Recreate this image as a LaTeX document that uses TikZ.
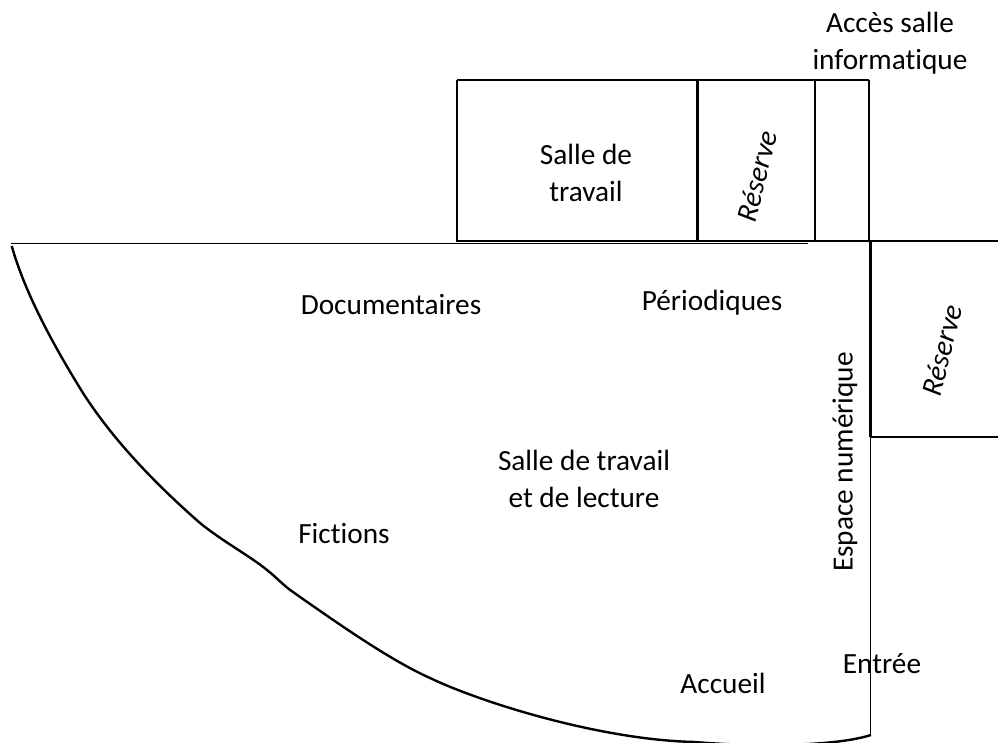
\documentclass[tikz,border=0pt]{standalone}
\usepackage{fontspec}
\setmainfont[Ligatures=NoCommon]{Carlito}
\tikzset{every picture/.style={line width=0.75pt}}
\tikzset{
  wall/.style={line width=2.4pt},
  thinwall/.style={line width=1.6pt},
  label/.style={font=\fontsize{29.3}{36.5}\selectfont,align=center,inner sep=0pt},
  slanted/.style={label,rotate=76,font=\fontsize{29.3}{36.5}\selectfont\itshape}
}
\begin{document}
\begin{tikzpicture}[x=1pt,y=1pt,yscale=-1,xscale=1]
\useasboundingbox (0,0) rectangle (998,743);

%Shape: Rectangle
\draw [wall]  (457,80) -- (869,80) ;
\draw [wall]  (457,80) -- (457,241) -- (869,241) ;
\draw [wall]  (697.5,80) -- (697.5,241) ;
\draw [wall]  (815,80) -- (815,241) ;
\draw [thinwall]  (869,80) -- (869,241) ;

%Straight Lines
\draw [thinwall]  (11,243.5) -- (808,243.5) ;
\draw [line width=2pt]  (869,241.5) -- (998,241.5) ;
\draw [wall]  (870.5,241) -- (870.5,437) ;
\draw [wall]  (870.5,437) -- (998,437) ;
\draw [thinwall]  (870.5,437) -- (870.5,735) ;

%Curve Lines
\draw [wall]  (11.7,246) .. controls (22,282) and (42,327) .. (83,393)
  .. controls (115,443) and (160,488) .. (200,523)
  .. controls (222,541) and (250,556) .. (267,570)
  .. controls (276,577) and (284,586) .. (293,592)
  .. controls (340,625) and (390,660) .. (430,678)
  .. controls (480,702) and (600,740) .. (695,742)
  .. controls (740,746) and (830,748) .. (871,735) ;

% Text Node
\node [label] (documentaires) at (391,305) {Documentaires};
\node [label] (periodiques) at (712,303) {Périodiques};
\node [label] (sallelecture) at (584,479) {Salle de travail\\et de lecture};
\node [label] (fictions) at (344,534) {Fictions};
\node [label] (accueil) at (723,683) {Accueil};
\node [label] (entree) at (882,664) {Entrée};
\node [label] (sallegroupe) at (586,173) {Salle de\\travail};
\node [label] (acces) at (890,43) {Accès salle\\informatique};
\node [label,rotate=90] (espace) at (845,462) {Espace numérique};
\node [slanted] (reserveh) at (757,176) {Réserve};
\node [slanted] (reservev) at (942,350) {Réserve};

\end{tikzpicture}
\end{document}
